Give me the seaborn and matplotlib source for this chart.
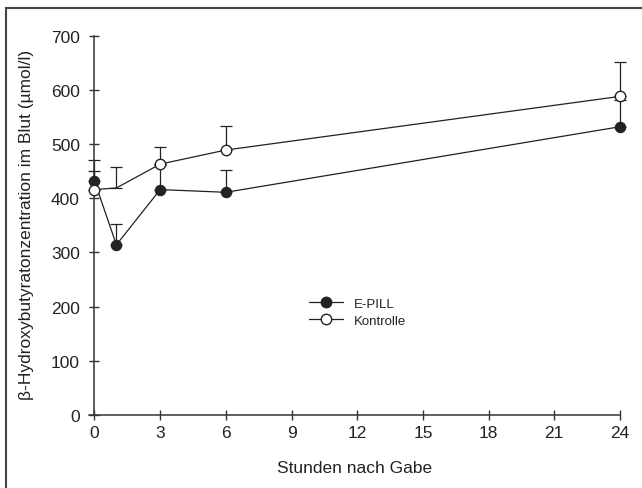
import numpy as np
import seaborn as sns
import matplotlib.pyplot as plt
from matplotlib.lines import Line2D
from matplotlib.patches import Rectangle

# Values
hours = [0, 1, 3, 6, 24]
epill_mean = [432, 314, 416, 411, 532]
epill_err = [39, 38, 45, 41, 49]
kontrolle_mean = [416, 419, 463, 489, 588]
kontrolle_err = [34, 38, 31, 45, 64]

x_ticks = list(range(0, 25, 3))
y_ticks = list(range(0, 701, 100))

sns.set_style("ticks")
plt.rcParams["font.family"] = ["Liberation Sans", "DejaVu Sans"]
ink = "#222222"

fig = plt.figure(figsize=(6.42, 4.89), dpi=100)
ax = fig.add_axes([89 / 642, 73 / 489, 531 / 642, 379.3 / 489])

# E-PILL: upper error bars, then filled markers
ax.errorbar(hours, epill_mean, yerr=[np.zeros(len(hours)), epill_err], fmt="none",
            ecolor=ink, elinewidth=0.9, capsize=4, capthick=0.9, zorder=2, clip_on=False)
sns.lineplot(x=hours, y=epill_mean, ax=ax, color=ink, linewidth=0.9, marker="o",
             markersize=7.5, markerfacecolor=ink, markeredgecolor=ink, zorder=3, clip_on=False)

# Kontrolle: upper error bars, then open markers (no marker at 1 h in the original)
ax.errorbar(hours, kontrolle_mean, yerr=[np.zeros(len(hours)), kontrolle_err], fmt="none",
            ecolor=ink, elinewidth=0.9, capsize=4, capthick=0.9, zorder=4, clip_on=False)
sns.lineplot(x=hours, y=kontrolle_mean, ax=ax, color=ink, linewidth=0.9, marker="o",
             markersize=7.5, markerfacecolor="white", markeredgecolor=ink, markeredgewidth=1.0,
             markevery=[0, 2, 3, 4], zorder=5, clip_on=False)

ax.set_xlim(-0.25, 24)
ax.set_ylim(0, 700)
ax.set_xticks(x_ticks)
ax.set_yticks(y_ticks)

ax.spines[["top", "right"]].set_visible(False)
ax.spines["left"].set_position(("data", 0))
for side in ["left", "bottom"]:
    ax.spines[side].set_color("#333333")
    ax.spines[side].set_linewidth(1.1)

ax.tick_params(direction="inout", length=7, width=1, color="#333333",
               labelsize=12.5, labelcolor=ink)
ax.tick_params(axis="y", pad=7)
ax.tick_params(axis="x", pad=4)

ax.set_xlabel("Stunden nach Gabe", fontsize=12.5, color=ink, labelpad=14)
ax.set_ylabel("β-Hydroxybutyratonzentration im Blut (µmol/l)", fontsize=12.5, color=ink)
ax.yaxis.set_label_coords(-0.103, 0.504)

handles = [
    Line2D([], [], color=ink, linewidth=0.9, marker="o", markersize=7.5,
           markerfacecolor=ink, markeredgecolor=ink),
    Line2D([], [], color=ink, linewidth=0.9, marker="o", markersize=7.5,
           markerfacecolor="white", markeredgecolor=ink),
]
ax.legend(handles, ["E-PILL", "Kontrolle"], loc="upper left",
          bbox_to_anchor=(0.414, 0.31), frameon=False, fontsize=9.5,
          handlelength=2.6, handletextpad=0.8, labelspacing=0.36,
          borderpad=0, borderaxespad=0, labelcolor=ink)

# outer box of the source figure (cut off at right and bottom)
fig.add_artist(Rectangle((6 / 642, -0.2), 1.5, (489 - 9) / 489 + 0.2,
                         transform=fig.transFigure, fill=False,
                         edgecolor="#444444", linewidth=1.5))

fig.savefig("out.png", dpi=100)
